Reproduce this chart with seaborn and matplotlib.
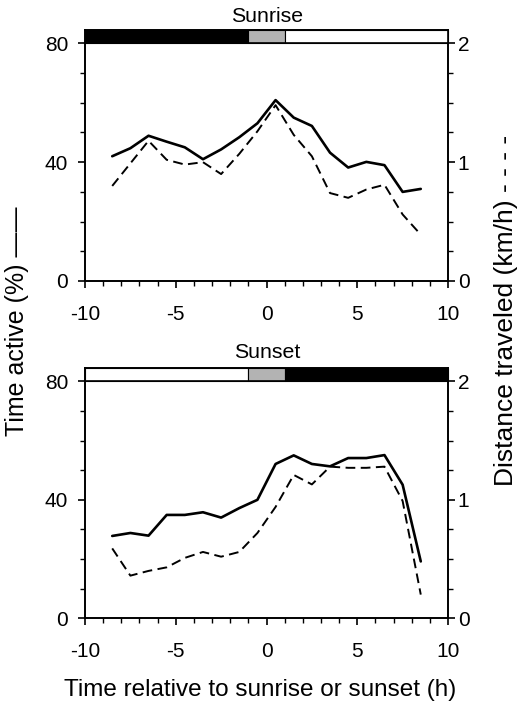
import numpy as np
import pandas as pd
import matplotlib
matplotlib.use("Agg")
import matplotlib.pyplot as plt
import seaborn as sns
from matplotlib.patches import Rectangle
from matplotlib.ticker import MultipleLocator, FixedLocator

sns.set_style("ticks")
plt.rcParams['font.family'] = ['Liberation Sans', 'DejaVu Sans']
plt.rcParams['axes.unicode_minus'] = False
plt.rcParams['text.color'] = 'black'
plt.rcParams['xtick.color'] = 'black'
plt.rcParams['ytick.color'] = 'black'
plt.rcParams['xtick.labelcolor'] = 'black'
plt.rcParams['ytick.labelcolor'] = 'black'
plt.rcParams['axes.labelcolor'] = 'black'
plt.rcParams['axes.edgecolor'] = 'black'

hours = [-8.5, -7.5, -6.5, -5.5, -4.5, -3.5, -2.5, -1.5, -0.5,
         0.5, 1.5, 2.5, 3.5, 4.5, 5.5, 6.5, 7.5, 8.5]

sunrise_active = [42, 44.7, 48.9, 46.9, 45, 41, 44.3, 48.4, 53.1,
                  60.9, 55, 52.2, 43.2, 38.2, 40.1, 39, 30, 31]
sunrise_dist = [0.80, 0.99, 1.18, 1.02, 0.98, 1.00, 0.90, 1.07, 1.26,
                1.48, 1.23, 1.05, 0.74, 0.70, 0.77, 0.81, 0.56, 0.39]

sunset_active = [27.8, 28.8, 27.9, 34.9, 34.9, 35.8, 34, 37.2, 40,
                 52.1, 55, 52.1, 51.3, 54.1, 54.1, 55.1, 45.1, 19.2]
sunset_dist = [0.59, 0.36, 0.40, 0.43, 0.51, 0.56, 0.52, 0.56, 0.72,
               0.94, 1.21, 1.13, 1.28, 1.27, 1.27, 1.28, 0.99, 0.20]

panel_titles = ["Sunrise", "Sunset"]
# light bar segments: (start, end, colour)
bar_sunrise = [(-10, -1, "black"), (-1, 1, "#b3b3b3"), (1, 10, "white")]
bar_sunset = [(-10, -1, "white"), (-1, 1, "#b3b3b3"), (1, 10, "black")]

W, H = 519, 706
fig = plt.figure(figsize=(W / 100, H / 100), dpi=100)

YTOP = 84.5
panels = [
    (30, 281, sunrise_active, sunrise_dist, bar_sunrise, panel_titles[0], 22),
    (368, 618.3, sunset_active, sunset_dist, bar_sunset, panel_titles[1], 358),
]
FS = 15
for top, bot, act, dist, bars, title, ty in panels:
    ax = fig.add_axes([85 / W, 1 - bot / H, (448 - 85) / W, (bot - top) / H])
    df = pd.DataFrame({"h": hours, "active": act, "dist": dist})
    sns.lineplot(data=df, x="h", y="active", ax=ax, color="black", lw=1.9)
    ax.set_xlim(-10, 10)
    ax.set_ylim(0, YTOP)
    ax.set_xlabel("")
    ax.set_ylabel("")
    ax.yaxis.set_major_locator(FixedLocator([0, 40, 80]))
    ax.yaxis.set_minor_locator(MultipleLocator(10))
    ax.xaxis.set_major_locator(MultipleLocator(5))
    ax.xaxis.set_minor_locator(MultipleLocator(1))
    ax.tick_params(which="major", length=5, width=1.2, direction="out",
                   labelsize=FS, color="black", labelcolor="black")
    ax.tick_params(which="minor", length=3.5, width=1.0, direction="out", color="black")
    ax.tick_params(axis="y", which="major", pad=7)
    ax.tick_params(axis="x", which="major", pad=12)
    for s in ax.spines.values():
        s.set_linewidth(1.2)
        s.set_color("black")
        s.set_visible(True)
    for x0, x1, c in bars:
        ax.add_patch(Rectangle((x0, 80), x1 - x0, YTOP - 80, facecolor=c,
                               edgecolor="black", lw=0.8, zorder=3, clip_on=False))
    ax.axhline(80, color="black", lw=1.2, zorder=4)

    ax2 = ax.twinx()
    sns.lineplot(data=df, x="h", y="dist", ax=ax2, color="black", lw=1.4,
                 dashes=False, linestyle=(0, (5, 2.8)))
    ax2.set_ylim(0, YTOP / 40)
    ax2.set_ylabel("")
    ax2.yaxis.set_major_locator(FixedLocator([0, 1, 2]))
    ax2.yaxis.set_minor_locator(MultipleLocator(0.25))
    ax2.tick_params(which="major", length=5, width=1.2, direction="out",
                    labelsize=FS, color="black", labelcolor="black", pad=2)
    ax2.tick_params(which="minor", length=3.5, width=1.0, direction="out", color="black")
    for s in ax2.spines.values():
        s.set_linewidth(1.2)
        s.set_color("black")
        s.set_visible(True)
    ax.set_xlim(-10, 10)

    fig.text(267 / W, 1 - ty / H, title, ha="center", va="baseline",
             fontsize=15.3, color="black")

fig.text(17 / W, 1 - 321 / H, "Time active (%) ——", rotation=90,
         ha="center", va="center", fontsize=18, color="black")
fig.text(506 / W, 1 - 310 / H, "Distance traveled (km/h) - - - -", rotation=90,
         ha="center", va="center", fontsize=19, color="black")
fig.text(260 / W, 1 - 696 / H, "Time relative to sunrise or sunset (h)",
         ha="center", va="baseline", fontsize=17.5, color="black")

fig.savefig("out.png", dpi=100)
